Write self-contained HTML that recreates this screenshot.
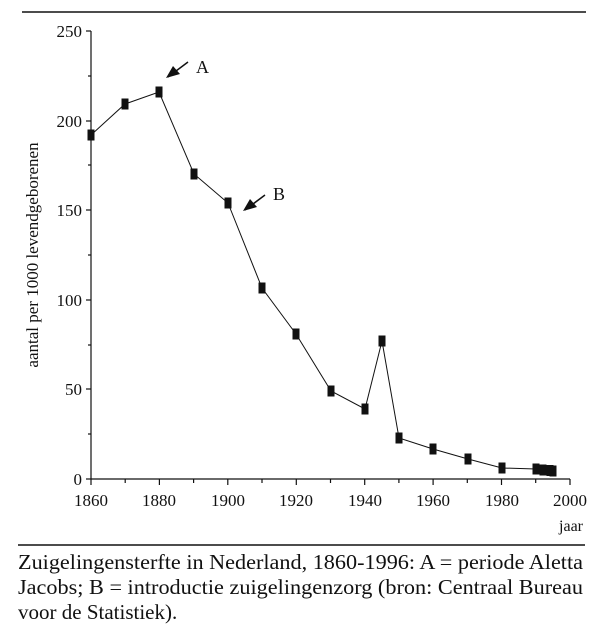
<!DOCTYPE html>
<html><head><meta charset="utf-8"><style>
body{margin:0;background:#fff;}
</style></head><body>
<div style="position:relative;width:600px;height:632px;overflow:hidden">
<svg width="600" height="632" style="position:absolute;left:0;top:0" font-family="Liberation Serif, serif" fill="#111">
<line x1="22" y1="12" x2="586" y2="12" stroke="#111" stroke-width="1.5"/>
<line x1="18" y1="545" x2="585" y2="545" stroke="#111" stroke-width="1.5"/>
<g stroke="#111" stroke-width="1.2">
<line x1="91" y1="31" x2="91" y2="479"/>
<line x1="91" y1="479" x2="570" y2="479"/>
<line x1="86" y1="31" x2="91" y2="31"/><line x1="86" y1="121" x2="91" y2="121"/>
<line x1="86" y1="210" x2="91" y2="210"/><line x1="86" y1="300" x2="91" y2="300"/>
<line x1="86" y1="389" x2="91" y2="389"/><line x1="86" y1="479" x2="91" y2="479"/>
<line x1="88" y1="76" x2="91" y2="76"/><line x1="88" y1="165" x2="91" y2="165"/>
<line x1="88" y1="255" x2="91" y2="255"/><line x1="88" y1="345" x2="91" y2="345"/>
<line x1="88" y1="434" x2="91" y2="434"/>
<line x1="91" y1="479" x2="91" y2="485"/><line x1="125.2" y1="479" x2="125.2" y2="483"/>
<line x1="159.4" y1="479" x2="159.4" y2="485"/><line x1="193.6" y1="479" x2="193.6" y2="483"/>
<line x1="227.8" y1="479" x2="227.8" y2="485"/><line x1="262" y1="479" x2="262" y2="483"/>
<line x1="296.3" y1="479" x2="296.3" y2="485"/><line x1="330.5" y1="479" x2="330.5" y2="483"/>
<line x1="364.7" y1="479" x2="364.7" y2="485"/><line x1="398.9" y1="479" x2="398.9" y2="483"/>
<line x1="433.1" y1="479" x2="433.1" y2="485"/><line x1="467.3" y1="479" x2="467.3" y2="483"/>
<line x1="501.5" y1="479" x2="501.5" y2="485"/><line x1="535.7" y1="479" x2="535.7" y2="483"/>
<line x1="570" y1="479" x2="570" y2="485"/>
</g>
<g font-size="17" text-anchor="end">
<text x="82" y="37">250</text><text x="82" y="127">200</text><text x="82" y="216">150</text>
<text x="82" y="306">100</text><text x="82" y="395">50</text><text x="82" y="485">0</text>
</g>
<g font-size="17" text-anchor="middle">
<text x="91" y="506">1860</text><text x="159" y="506">1880</text><text x="228" y="506">1900</text>
<text x="296" y="506">1920</text><text x="365" y="506">1940</text><text x="433" y="506">1960</text>
<text x="502" y="506">1980</text><text x="570" y="506">2000</text>
</g>
<text x="583" y="531" font-size="16" text-anchor="end">jaar</text>
<text transform="translate(38,255) rotate(-90)" font-size="17" text-anchor="middle">aantal per 1000 levendgeborenen</text>
<polyline fill="none" stroke="#111" stroke-width="1" points="91,135 125,104 159,92 194,174 228,203 262,288 296,334 331,391 365,409 382,341 399,438 433,449 468,459 502,468 536,469 543,470 550,470.5 553,471"/>
<g>
<rect x="87.5" y="129.5" width="7" height="11"/><rect x="121.5" y="98.5" width="7" height="11"/>
<rect x="155.5" y="86.5" width="7" height="11"/><rect x="190.5" y="168.5" width="7" height="11"/>
<rect x="224.5" y="197.5" width="7" height="11"/><rect x="258.5" y="282.5" width="7" height="11"/>
<rect x="292.5" y="328.5" width="7" height="11"/><rect x="327.5" y="385.5" width="7" height="11"/>
<rect x="361.5" y="403.5" width="7" height="11"/><rect x="378.5" y="335.5" width="7" height="11"/>
<rect x="395.5" y="432.5" width="7" height="11"/><rect x="429.5" y="443.5" width="7" height="11"/>
<rect x="464.5" y="453.5" width="7" height="11"/><rect x="498.5" y="462.5" width="7" height="11"/>
<rect x="532.5" y="463.5" width="7" height="11"/><rect x="539.5" y="464.5" width="7" height="11"/>
<rect x="546.5" y="465" width="7" height="11"/><rect x="549.5" y="465.5" width="7" height="11"/>
</g>
<text x="196" y="73" font-size="18">A</text>
<text x="273" y="200" font-size="18">B</text>
<g stroke="#111" stroke-width="1.5"><line x1="188" y1="62" x2="168" y2="77"/><line x1="265" y1="195" x2="245" y2="210"/></g>
<polygon points="166,78 173,66 180,74"/>
<polygon points="243,211 250,199 257,207"/>
<g font-size="21">
<text x="18" y="569" textLength="565" lengthAdjust="spacingAndGlyphs">Zuigelingensterfte in Nederland, 1860-1996: A = periode Aletta</text>
<text x="18" y="594" textLength="565" lengthAdjust="spacingAndGlyphs">Jacobs; B = introductie zuigelingenzorg (bron: Centraal Bureau</text>
<text x="18" y="619">voor de Statistiek).</text>
</g>
</svg>
</div>
</body></html>
